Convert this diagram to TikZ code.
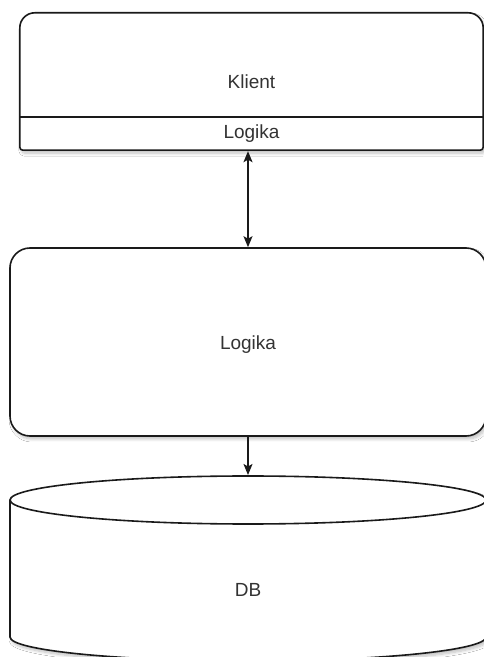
\documentclass[tikz,border=0pt]{standalone}
\usepackage{fontspec}
\setmainfont{Liberation Sans}
\usetikzlibrary{arrows.meta,shadows.blur,calc}
\definecolor{txt}{HTML}{333333}
\definecolor{edge}{HTML}{1A1A1A}
\tikzset{
  lbl/.style={text=txt,font=\fontsize{19}{22}\selectfont,inner sep=0pt},
  shape line/.style={draw=edge,line width=1.6pt,fill=white},
  myshadow/.style={blur shadow={shadow xshift=2pt,shadow yshift=-3pt,shadow blur radius=3pt,shadow opacity=25,shadow blur steps=8}},
  conn/.style={draw=edge,line width=1.5pt},
  mytip/.tip={Stealth[length=11pt,width=9pt,inset=2.5pt]}
}
\begin{document}
\begin{tikzpicture}[x=1pt,y=1pt]
\useasboundingbox (0,0) rectangle (484,657);
\fill[white] (0,0) rectangle (484,657);
\clip (0,0) rectangle (484,657);
% Klient box
\node[minimum width=463pt,minimum height=137pt,inner sep=0pt] (klient) at (251.5,575.5) {};
\path[shape line,myshadow]
  ($(klient.south west)+(0,3)$) -- ($(klient.north west)+(0,-15)$)
  arc[start angle=180,end angle=90,radius=15] -- ($(klient.north east)+(-15,0)$)
  arc[start angle=90,end angle=0,radius=15] -- ($(klient.south east)+(0,3)$)
  arc[start angle=0,end angle=-90,radius=3] -- ($(klient.south west)+(3,0)$)
  arc[start angle=270,end angle=180,radius=3] -- cycle;
\node[lbl] at (klient.center) {Klient};
\node[minimum width=463pt,minimum height=33pt,inner sep=0pt] (logik1) at (251.5,523.5) {};
\draw[draw=edge,line width=1.6pt] (logik1.north west) -- (logik1.north east);
\node[lbl] at (logik1.center) {Logika};
% middle box
\node[shape line,myshadow,rounded corners=20pt,minimum width=476pt,minimum height=188pt,inner sep=0pt] (mid) at (248,315) {};
\node[lbl] at (248,312) {Logika};
% database cylinder
\coordinate (dbtop) at (248,182);
\path[shape line,myshadow] (10,157) -- (10,20) arc[start angle=180,end angle=360,x radius=238,y radius=24] -- (486,157) arc[start angle=0,end angle=180,x radius=238,y radius=24] -- cycle;
\draw[draw=edge,line width=1.6pt] (10,157) arc[start angle=180,end angle=360,x radius=238,y radius=24];
\node[lbl] (db) at (248,67) {DB};
% connectors
\draw[conn,mytip-mytip,shorten <=1pt] (logik1.south -| mid.north) -- (mid.north);
\draw[conn,-mytip] (mid.south) -- (dbtop);
\end{tikzpicture}
\end{document}
